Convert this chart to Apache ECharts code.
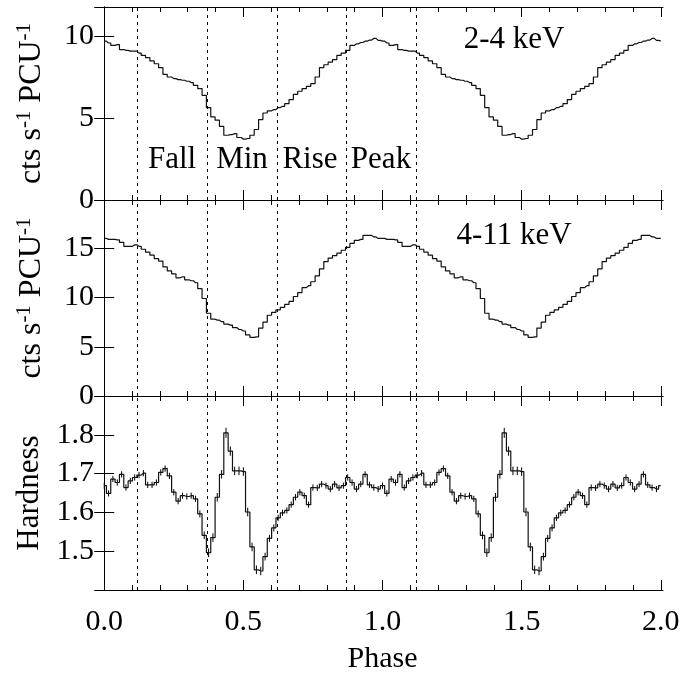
<!DOCTYPE html>
<html>
<head>
<meta charset="utf-8">
<script src="https://cdn.jsdelivr.net/npm/echarts@6/dist/echarts.min.js"></script>
<style>
  html, body { margin: 0; background: #fff; }
  #chart { width: 683px; height: 675px; }
</style>
</head>
<body>
<div id="chart"></div>
<script>
// one pulse cycle, 64 phase bins (bin i centred on phase i/64); plotted twice
const nBins = 64;

const rate24 = [9.71, 9.60, 9.45, 9.50, 9.20, 9.15, 9.10, 9.10, 8.98, 8.84,
  8.70, 8.50, 8.33, 8.09, 7.68, 7.52, 7.42, 7.36, 7.32, 7.26,
  7.18, 7.01, 6.81, 6.40, 5.65, 5.08, 4.88, 4.50, 3.96, 4.00,
  4.06, 3.82, 3.72, 3.76, 3.96, 4.31, 4.92, 5.32, 5.45, 5.53,
  5.65, 5.73, 5.89, 6.14, 6.46, 6.65, 6.81, 6.95, 7.11, 7.52,
  8.09, 8.27, 8.43, 8.58, 8.84, 8.98, 9.15, 9.45, 9.55, 9.63,
  9.71, 9.78, 9.88, 9.76];

const rate411 = [16.0, 15.9, 15.9, 15.85, 15.6, 15.2, 15.2, 15.35, 15.2, 14.9,
  14.6, 14.3, 13.95, 13.7, 13.1, 12.7, 12.4, 12.0, 12.1, 11.8,
  11.7, 11.5, 10.9, 9.9, 8.4, 7.8, 7.7, 7.55, 7.3, 7.2,
  6.95, 6.75, 6.6, 6.2, 5.95, 6.0, 6.9, 7.5, 8.2, 8.5,
  8.75, 9.0, 9.3, 9.6, 10.1, 10.5, 11.0, 11.2, 11.6, 12.2,
  12.9, 13.65, 14.0, 14.25, 14.5, 14.8, 15.1, 15.5, 15.8, 15.9,
  16.3, 16.3, 16.15, 16.0];

const hardness = [1.669, 1.649, 1.686, 1.677, 1.698, 1.664, 1.681, 1.690, 1.696, 1.701,
  1.671, 1.671, 1.677, 1.703, 1.713, 1.694, 1.652, 1.629, 1.643, 1.641,
  1.643, 1.635, 1.596, 1.541, 1.496, 1.535, 1.639, 1.698, 1.805, 1.758,
  1.707, 1.707, 1.705, 1.601, 1.511, 1.452, 1.449, 1.486, 1.533, 1.560,
  1.586, 1.599, 1.605, 1.620, 1.639, 1.652, 1.643, 1.620, 1.664, 1.663,
  1.673, 1.669, 1.660, 1.673, 1.663, 1.669, 1.690, 1.677, 1.660, 1.673,
  1.698, 1.671, 1.664, 1.660];

const hardnessErr = [0.008, 0.008, 0.008, 0.008, 0.008, 0.008, 0.008, 0.008, 0.008, 0.008,
  0.008, 0.008, 0.008, 0.008, 0.008, 0.008, 0.008, 0.008, 0.008, 0.008,
  0.008, 0.008, 0.009, 0.010, 0.011, 0.011, 0.011, 0.011, 0.013, 0.012,
  0.011, 0.011, 0.011, 0.011, 0.011, 0.011, 0.011, 0.010, 0.009, 0.009,
  0.008, 0.008, 0.008, 0.008, 0.008, 0.008, 0.008, 0.008, 0.008, 0.008,
  0.008, 0.008, 0.008, 0.008, 0.008, 0.008, 0.008, 0.008, 0.008, 0.008,
  0.008, 0.008, 0.008, 0.008];

const dividers = [0.117, 0.367, 0.617, 0.867, 1.117];
const majorTicks = [0, 0.5, 1.0, 1.5, 2.0];
const minorTicks = [0.1, 0.2, 0.3, 0.4, 0.6, 0.7, 0.8, 0.9, 1.1, 1.2, 1.3, 1.4,
  1.6, 1.7, 1.8, 1.9];

const phaseNames = ['Fall', 'Min', 'Rise', 'Peak'];
const phaseNameX = [172, 242, 310, 381];
const bandNames = ['2-4 keV', '4-11 keV'];

const FONT = 'Liberation Serif';
const FS = 30;     // tick labels, axis titles
const FS_NOTE = 31; // annotations inside the panels

function twoCycles(vals, extra) {
  const out = [];
  for (let c = 0; c < 2; c++) {
    vals.forEach((v, i) => {
      const p = [c + i / nBins, v];
      if (extra) p.push(extra[i]);
      out.push(p);
    });
  }
  if (!extra) out.push([2, vals[0]]);
  return out;
}

const grids = [
  { left: 102, right: 20, top: 7, height: 193 },
  { left: 102, right: 20, top: 200, height: 196 },
  { left: 102, right: 20, top: 396, height: 196 }
];

const xAxes = [];
const yAxes = [];
const ylim = [[0, 11.8, 5], [0, 19.9, 5], [1.4, 1.9, 0.1]];
const cps = '{t|cts s}{s|-1}{t| PCU}{s|-1}';
const nameRich = {
  t: { fontSize: 32, fontFamily: FONT, color: '#000', lineHeight: 36, verticalAlign: 'middle' },
  s: { fontSize: 21, fontFamily: FONT, color: '#000', verticalAlign: 'top', lineHeight: 36 }
};

grids.forEach((g, gi) => {
  const bottomLabels = gi === 2;
  ['bottom', 'top'].forEach(pos => {
    // major ticks
    xAxes.push({
      gridIndex: gi, type: 'value', position: pos, min: -0.008, max: 2.008,
      axisLine: { show: true, lineStyle: { color: '#000', width: 1 } },
      axisTick: { inside: true, length: 10, customValues: majorTicks, lineStyle: { color: '#000' } },
      axisLabel: (pos === 'bottom' && bottomLabels) ? {
        show: true, customValues: majorTicks, formatter: v => v.toFixed(1),
        fontFamily: FONT, fontSize: FS, color: '#000', margin: 17
      } : { show: false },
      splitLine: { show: false },
      name: (pos === 'bottom' && bottomLabels) ? 'Phase' : '',
      nameLocation: 'middle', nameGap: 54,
      nameTextStyle: { fontFamily: FONT, fontSize: FS, color: '#000' }
    });
    // minor ticks
    xAxes.push({
      gridIndex: gi, type: 'value', position: pos, min: -0.008, max: 2.008,
      axisLine: { show: false },
      axisTick: { inside: true, length: 5, customValues: minorTicks, lineStyle: { color: '#000' } },
      axisLabel: { show: false },
      splitLine: { show: false }
    });
  });
  ['left', 'right'].forEach(pos => {
    const [mn, mx, step] = ylim[gi];
    yAxes.push({
      gridIndex: gi, type: 'value', position: pos, min: mn, max: mx, interval: step,
      axisLine: { show: true, lineStyle: { color: '#000', width: 1 } },
      axisTick: { inside: true, length: 10, lineStyle: { color: '#000' } },
      axisLabel: pos === 'left' ? {
        show: true, fontFamily: FONT, fontSize: FS, color: '#000', margin: 8,
        showMaxLabel: false, showMinLabel: gi !== 2,
        formatter: v => gi === 2 ? v.toFixed(1) : String(Math.round(v))
      } : { show: false },
      splitLine: { show: false },
      name: pos === 'left' ? (gi === 2 ? 'Hardness' : cps) : '',
      nameLocation: 'middle', nameRotate: 90, nameGap: gi === 2 ? 56 : 52,
      nameTextStyle: gi === 2
        ? { fontFamily: FONT, fontSize: 31, color: '#000' }
        : { rich: nameRich }
    });
  });
});

function dividerLines() {
  return {
    silent: true, symbol: ['none', 'none'], animation: false,
    label: { show: false },
    lineStyle: { type: [3, 4], color: '#000', width: 1 },
    data: dividers.map(x => ({ xAxis: x }))
  };
}

const lineStyle = { color: '#111', width: 1.2 };
const panelData = [rate24, rate411, hardness];

const series = panelData.map((vals, gi) => ({
  type: 'line', step: 'middle', xAxisIndex: gi * 4, yAxisIndex: gi * 2,
  data: twoCycles(vals), showSymbol: false, symbol: 'none',
  lineStyle: lineStyle, animation: false,
  markLine: dividerLines()
}));

series.push({
  type: 'custom', xAxisIndex: 8, yAxisIndex: 4,
  data: twoCycles(hardness, hardnessErr),
  encode: { x: 0, y: 1 },
  animation: false,
  renderItem: (params, api) => {
    const x = api.value(0), v = api.value(1), e = api.value(2);
    const a = api.coord([x, v - e]);
    const b = api.coord([x, v + e]);
    return {
      type: 'line',
      shape: { x1: a[0], y1: a[1], x2: b[0], y2: b[1] },
      style: { stroke: '#000', lineWidth: 1 }
    };
  }
});

const texts = [];
phaseNames.forEach((t, i) => texts.push({ text: t, x: phaseNameX[i], y: 160 }));
texts.push({ text: bandNames[0], x: 514, y: 40 });
texts.push({ text: bandNames[1], x: 514, y: 236 });

const chart = echarts.init(document.getElementById('chart'), null, { renderer: 'canvas' });
chart.setOption({
  backgroundColor: '#fff',
  animation: false,
  grid: grids,
  xAxis: xAxes,
  yAxis: yAxes,
  series: series,
  graphic: texts.map(t => ({
    type: 'text', x: t.x, y: t.y, silent: true,
    style: {
      text: t.text, font: FS_NOTE + 'px "' + FONT + '"', fill: '#000',
      textAlign: 'center', textVerticalAlign: 'middle'
    }
  }))
});
</script>
</body>
</html>
